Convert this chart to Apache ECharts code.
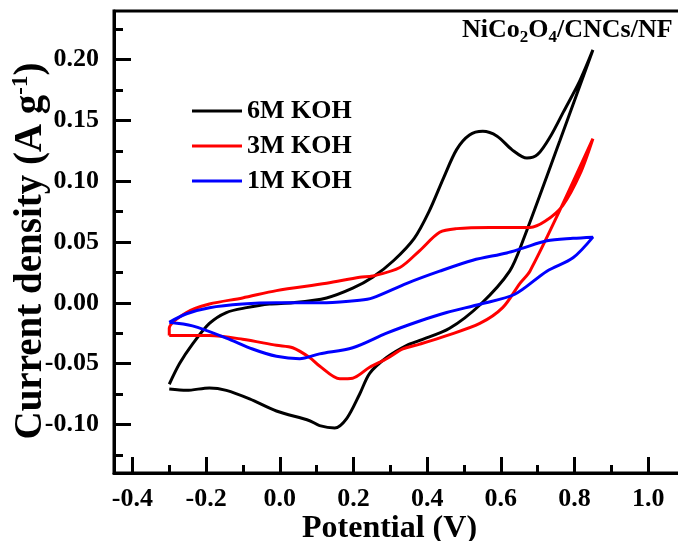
<!DOCTYPE html>
<html>
<head>
<meta charset="UTF-8">
<title>CV curves</title>
<script src="https://cdn.jsdelivr.net/npm/echarts@6/dist/echarts.min.js"></script>
<style>
body { margin: 0; background: #fff; }
#chart { width: 678px; height: 541px; }
</style>
</head>
<body>
<div id="chart"></div>
<script>
// [potential V, current density A/g], anodic sweep then cathodic sweep
var koh6Fwd = [[-0.30,-0.067],[-0.272,-0.050],[-0.237,-0.034],[-0.191,-0.017],[-0.145,-0.008],[-0.090,-0.004],[-0.028,-0.001],[0.035,0.000],[0.127,0.004],[0.198,0.012],[0.252,0.021],[0.310,0.035],[0.365,0.053],[0.405,0.075],[0.445,0.103],[0.480,0.126],[0.515,0.138],[0.551,0.141],[0.590,0.137],[0.630,0.126],[0.671,0.119],[0.700,0.122],[0.735,0.137],[0.770,0.157],[0.815,0.183],[0.85,0.208]];
var koh6Rev = [[0.760,0.133],[0.660,0.051],[0.624,0.026],[0.546,-0.001],[0.461,-0.021],[0.380,-0.031],[0.345,-0.035],[0.290,-0.045],[0.244,-0.058],[0.217,-0.075],[0.182,-0.095],[0.149,-0.103],[0.108,-0.101],[0.081,-0.097],[-0.009,-0.089],[-0.082,-0.079],[-0.145,-0.072],[-0.191,-0.070],[-0.253,-0.072],[-0.30,-0.071]];

var koh3Fwd = [[-0.30,-0.027],[-0.30,-0.021],[-0.253,-0.008],[-0.191,-0.001],[-0.101,0.004],[-0.009,0.010],[0.127,0.016],[0.217,0.021],[0.252,0.022],[0.326,0.029],[0.380,0.043],[0.434,0.058],[0.480,0.061],[0.570,0.062],[0.679,0.062],[0.720,0.067],[0.768,0.080],[0.815,0.106],[0.85,0.135]];
var koh3Rev = [[0.760,0.076],[0.679,0.026],[0.652,0.016],[0.605,-0.004],[0.543,-0.017],[0.453,-0.027],[0.380,-0.034],[0.334,-0.038],[0.290,-0.046],[0.244,-0.053],[0.198,-0.062],[0.163,-0.0625],[0.108,-0.052],[0.081,-0.045],[0.035,-0.037],[-0.009,-0.035],[-0.101,-0.030],[-0.191,-0.027],[-0.30,-0.027]];

var koh1Fwd = [[-0.30,-0.016],[-0.253,-0.009],[-0.191,-0.004],[-0.101,-0.001],[-0.009,0.000],[0.127,0.000],[0.217,0.002],[0.252,0.004],[0.345,0.016],[0.434,0.026],[0.524,0.035],[0.616,0.041],[0.660,0.045],[0.725,0.051],[0.796,0.053],[0.85,0.054]];
var koh1Rev = [[0.796,0.037],[0.725,0.026],[0.638,0.007],[0.546,-0.001],[0.453,-0.008],[0.380,-0.015],[0.290,-0.025],[0.198,-0.037],[0.108,-0.042],[0.054,-0.046],[-0.009,-0.044],[-0.074,-0.038],[-0.145,-0.029],[-0.237,-0.019],[-0.30,-0.016]];

var xMajor = [-0.4, -0.2, 0.0, 0.2, 0.4, 0.6, 0.8, 1.0];
var xMinor = [-0.3, -0.1, 0.1, 0.3, 0.5, 0.7, 0.9];
var yMajor = [-0.10, -0.05, 0.00, 0.05, 0.10, 0.15, 0.20];
var yMinor = [-0.125, -0.075, -0.025, 0.025, 0.075, 0.125, 0.175, 0.225];

var names = ['6M KOH', '3M KOH', '1M KOH'];
var colors = ['#000000', '#ff0000', '#0000ff'];

var chart = echarts.init(document.getElementById('chart'));
var font = 'Liberation Serif';

function lineSeries(name, fwd, rev, color) {
    return {
        name: name,
        type: 'line',
        data: fwd.concat(rev),
        smooth: 0.3,
        showSymbol: false,
        symbol: 'none',
        lineStyle: { color: color, width: 3 },
        itemStyle: { color: color }
    };
}

var option = {
    backgroundColor: '#fff',
    animation: false,
    title: {
        text: '{a|NiCo}{s|2}{a|O}{s|4}{a|/CNCs/NF}',
        left: 457,
        top: 9,
        textStyle: {
            rich: {
                a: { fontFamily: font, fontWeight: 'bold', fontSize: 26, color: '#000' },
                s: { fontFamily: font, fontWeight: 'bold', fontSize: 17, color: '#000', padding: [15, 0, 0, 0] }
            }
        }
    },
    legend: {
        data: names,
        orient: 'vertical',
        left: 187,
        top: 93,
        icon: 'rect',
        itemWidth: 50,
        itemHeight: 3,
        itemGap: 9,
        textStyle: { fontFamily: font, fontWeight: 'bold', fontSize: 26, color: '#000' }
    },
    grid: {
        left: 114,
        top: 11,
        right: -7,
        bottom: 68,
        outerBoundsMode: 'none',
        containLabel: false,
        show: true,
        borderColor: '#000',
        borderWidth: 3
    },
    xAxis: [{
        type: 'value',
        min: -0.45,
        max: 1.1,
        name: 'Potential (V)',
        nameLocation: 'middle',
        nameMoveOverlap: false,
        nameGap: 40,
        nameTextStyle: { fontFamily: font, fontWeight: 'bold', fontSize: 32, color: '#000', padding: [0, 20, 0, 0] },
        axisLine: { onZero: false, lineStyle: { color: '#000', width: 3 } },
        axisTick: { inside: true, length: 16, customValues: xMajor, lineStyle: { width: 3, color: '#000' } },
        axisLabel: {
            customValues: xMajor,
            margin: 13,
            fontFamily: font, fontWeight: 'bold', fontSize: 26, color: '#000',
            formatter: function (v) { return v.toFixed(1); }
        },
        splitLine: { show: false }
    }, {
        type: 'value',
        min: -0.45,
        max: 1.1,
        position: 'bottom',
        axisLine: { show: false, onZero: false },
        axisTick: { inside: true, length: 8, customValues: xMinor, lineStyle: { width: 3, color: '#000' } },
        axisLabel: { show: false },
        splitLine: { show: false }
    }],
    yAxis: [{
        type: 'value',
        min: -0.14,
        max: 0.24,
        name: 'Current density (A g{sup|-1})',
        nameLocation: 'middle',
        nameMoveOverlap: false,
        nameGap: 63,
        nameTextStyle: {
            fontFamily: font, fontWeight: 'bold', fontSize: 39, color: '#000',
            padding: [0, 18, 0, 0],
            rich: {
                sup: { fontFamily: font, fontWeight: 'bold', fontSize: 23, color: '#000', padding: [0, 0, 18, 0] }
            }
        },
        axisLine: { onZero: false, lineStyle: { color: '#000', width: 3 } },
        axisTick: { inside: true, length: 17, customValues: yMajor, lineStyle: { width: 3, color: '#000' } },
        axisLabel: {
            customValues: yMajor,
            margin: 15,
            fontFamily: font, fontWeight: 'bold', fontSize: 26, color: '#000',
            formatter: function (v) { return v.toFixed(2); }
        },
        splitLine: { show: false }
    }, {
        type: 'value',
        min: -0.14,
        max: 0.24,
        position: 'left',
        axisLine: { show: false, onZero: false },
        axisTick: { inside: true, length: 9, customValues: yMinor, lineStyle: { width: 3, color: '#000' } },
        axisLabel: { show: false },
        splitLine: { show: false }
    }],
    series: [
        lineSeries(names[0], koh6Fwd, koh6Rev, colors[0]),
        lineSeries(names[1], koh3Fwd, koh3Rev, colors[1]),
        lineSeries(names[2], koh1Fwd, koh1Rev, colors[2])
    ]
};

chart.setOption(option);
</script>
</body>
</html>
